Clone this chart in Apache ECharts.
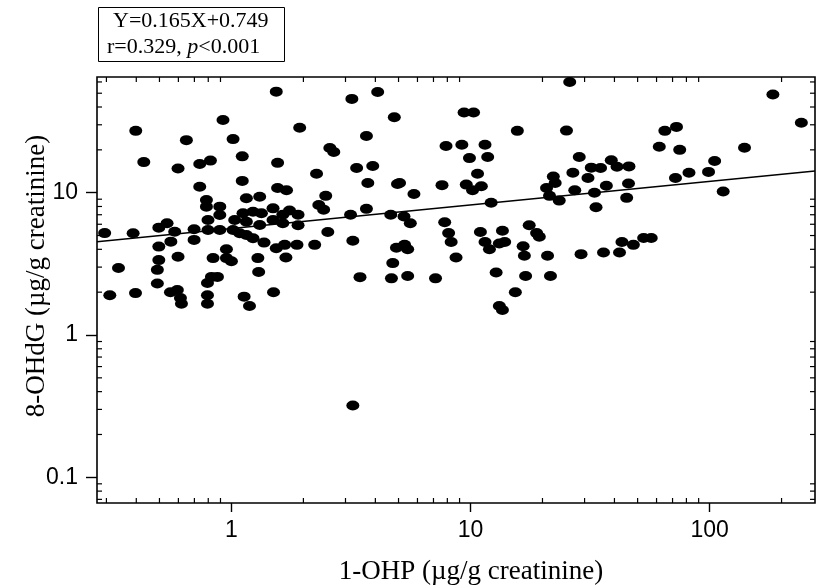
<!DOCTYPE html>
<html><head><meta charset="utf-8">
<script src="https://cdn.jsdelivr.net/npm/echarts@6/dist/echarts.min.js"></script>
<style>html,body{margin:0;padding:0;background:#fff}#c{width:817px;height:588px}</style>
</head><body><div id="c"></div>
<script>
// 1-OHP (x) and 8-OHdG (y), µg/g creatinine
const ohp = [0.398,0.922,1.016,0.648,0.430,0.598,0.737,0.817,1.11,1.54,0.737,1.11,1.56,1.56,0.786,0.786,0.894,0.894,1.155,1.313,1.118,1.231,1.335,1.493,0.798,0.798,0.894,1.032,1.155,1.493,0.497,0.538,0.579,0.388,0.698,0.698,1.016,1.083,1.313,1.155,1.231,0.558,0.497,1.369,1.54,0.953,0.598,0.838,0.953,1.29,0.497,
0.337,0.397,0.49,0.49,0.556,0.594,0.612,0.618,0.794,0.794,0.794,0.825,0.874,1.13,1.19,1.3,1.0,0.295,0.31,
1.93,1.70,1.75,1.9,1.9,1.88,1.64,1.64,1.67,1.69,1.50,2.23,2.27,2.32,2.43,2.48,2.58,2.68,2.53,3.19,3.22,3.15,3.34,3.22,3.45,3.67,3.67,3.72,3.9,4.09,4.8,4.67,4.73,4.64,4.95,4.9,5.27,5.3,5.46,5.46,5.6,5.8,5.05,
7.14,7.6,7.9,7.8,8.1,8.3,8.7,9.2,9.4,10.3,9.6,9.9,10.2,10.7,11,11.1,11.5,11.8,12.2,11.5,12,12.8,13.2,13.6,13.2,13.6,13.9,15.7,15.4,17,16.8,16.6,17.6,18.9,19.4,21,21.6,
20.8,21.4,22.2,22.6,23.5,26,25.2,27.3,26.8,28.5,29,31,32,33,33.5,35,36,37,38.8,41,42,43,45.8,46,48,45,53,57,61.6,65,72.7,75,72,82,99,105,114,140,184,242];
const ohdg = [27.2,32.4,23.8,23.4,16.4,14.8,15.9,16.8,18.0,51.3,11.0,12.1,16.2,10.8,8.89,7.98,7.98,6.97,9.14,9.37,7.16,7.35,7.16,7.76,6.43,5.47,5.47,6.43,6.25,6.43,5.68,6.10,5.32,5.19,5.53,4.66,5.47,5.19,5.93,5.05,4.79,4.53,4.18,4.46,4.07,4.00,3.55,3.47,3.47,3.47,3.36,
2.96,1.97,2.87,2.3,2.0,2.07,1.82,1.66,2.32,1.9,1.66,2.56,2.56,1.86,1.6,2.77,3.3,5.2,1.9,
28.6,10.4,7.5,7.0,5.9,4.3,7.0,6.1,4.3,3.5,2.0,4.3,13.6,8.2,7.6,9.5,20.6,19.3,5.3,45.6,4.6,7.0,14.9,0.32,2.55,25,7.7,11.7,15.4,51,33.9,2.5,3.2,7.0,11.5,4.1,6.8,4.3,4.0,2.6,6.1,9.8,11.7,
2.5,11.3,21.3,6.2,5.2,4.5,3.5,21.7,36.6,36.6,11.4,17.5,10.4,13.6,5.3,11.1,21.7,17.8,8.5,4.5,4.0,2.75,1.6,1.5,4.4,5.4,4.5,27.2,2.0,2.6,3.6,4.2,5.9,5.2,4.9,3.6,2.6,
10.8,9.5,13.0,11.7,8.8,60,27.3,10.4,13.8,17.8,3.7,12.7,15,10,7.9,14.9,3.8,11.2,16.9,15.2,3.8,4.5,11.6,15.3,4.3,9.2,4.8,4.8,21,27.2,29,20,12.7,13.8,14,16.7,10.2,20.7,49,31];

const xTicks = [1, 10, 100];
const yTicks = [0.1, 1, 10];
const xMinor = [0.3,0.4,0.5,0.6,0.7,0.8,0.9,2,3,4,5,6,7,8,9,20,30,40,50,60,70,80,90,200];
const yMinor = [0.07,0.08,0.09,0.2,0.3,0.4,0.5,0.6,0.7,0.8,0.9,2,3,4,5,6,7,8,9,20,30,40,50,60];
const xRange = [0.274, 276];
const yRange = [0.066, 65];
// regression line  log(Y)=0.165 log(X)+0.749, endpoints at plot edges
const fitX = [0.274, 276];
const fitY = [4.53, 14.18];
const xTitle = '1-OHP (µg/g creatinine)';
const yTitle = '8-OHdG (µg/g creatinine)';

const pts = ohp.map((v, i) => [v, ohdg[i]]);
const tickSeries = (data, size, offset) => ({
  type: 'scatter', data, symbol: 'rect', symbolSize: size, symbolOffset: offset,
  itemStyle: { color: '#000', opacity: 1 }, silent: true, clip: false, z: 1
});

const chart = echarts.init(document.getElementById('c'));
const tickFont = { fontFamily: 'Liberation Sans', fontSize: 23, color: '#000' };
const serif = '"Liberation Serif"';
chart.setOption({
  animation: false,
  grid: { left: 97, right: 2, top: 77, bottom: 85, show: true, borderColor: '#000', borderWidth: 1.6, backgroundColor: 'transparent' },
  xAxis: {
    type: 'log', logBase: 10, min: xRange[0], max: xRange[1],
    axisLine: { show: false },
    axisTick: { show: true, length: 9, lineStyle: { color: '#000', width: 1.4 }, customValues: xTicks },
    axisLabel: Object.assign({ margin: 16, customValues: xTicks }, tickFont),
    splitLine: { show: false }, minorTick: { show: false }
  },
  yAxis: {
    type: 'log', logBase: 10, min: yRange[0], max: yRange[1],
    axisLine: { show: false },
    axisTick: { show: true, length: 11, lineStyle: { color: '#000', width: 1.4 }, customValues: yTicks },
    axisLabel: Object.assign({ margin: 19, customValues: yTicks }, tickFont),
    splitLine: { show: false }, minorTick: { show: false }
  },
  graphic: [
    { type: 'rect', shape: { x: 98.5, y: 7.5, width: 186, height: 54 }, style: { fill: '#fff', stroke: '#000', lineWidth: 1 } },
    { type: 'text', x: 113, y: 21, style: { text: 'Y=0.165X+0.749', font: '22px ' + serif, fill: '#000', verticalAlign: 'middle' } },
    { type: 'text', x: 107, y: 47, style: { text: '{a|r=0.329, }{b|p}{a|<0.001}', verticalAlign: 'middle', rich: { a: { font: '22px ' + serif, fill: '#000' }, b: { font: 'italic 22px ' + serif, fill: '#000' } } } },
    { type: 'text', x: 471, y: 572, style: { text: xTitle, font: '27px ' + serif, fill: '#000', align: 'center', verticalAlign: 'middle' } },
    { type: 'text', x: 37, y: 276, rotation: Math.PI / 2, style: { text: yTitle, font: '27px ' + serif, fill: '#000', align: 'center', verticalAlign: 'middle' } }
  ],
  series: [
    tickSeries(xMinor.map(v => [v, yRange[0]]), [1.2, 5], [0, -2.5]),
    tickSeries(xMinor.map(v => [v, yRange[1]]), [1.2, 5], [0, 2.5]),
    tickSeries(yMinor.map(v => [xRange[0], v]), [5, 1.2], [2.5, 0]),
    tickSeries(yMinor.map(v => [xRange[1], v]), [5, 1.2], [-2.5, 0]),
    { type: 'line', data: fitX.map((v, i) => [v, fitY[i]]), symbol: 'none', lineStyle: { color: '#000', width: 1.5 }, z: 2, silent: true },
    { type: 'scatter', data: pts, symbol: 'circle', symbolSize: [13, 10], itemStyle: { color: '#000', opacity: 1 }, z: 3 }
  ]
});
</script></body></html>
